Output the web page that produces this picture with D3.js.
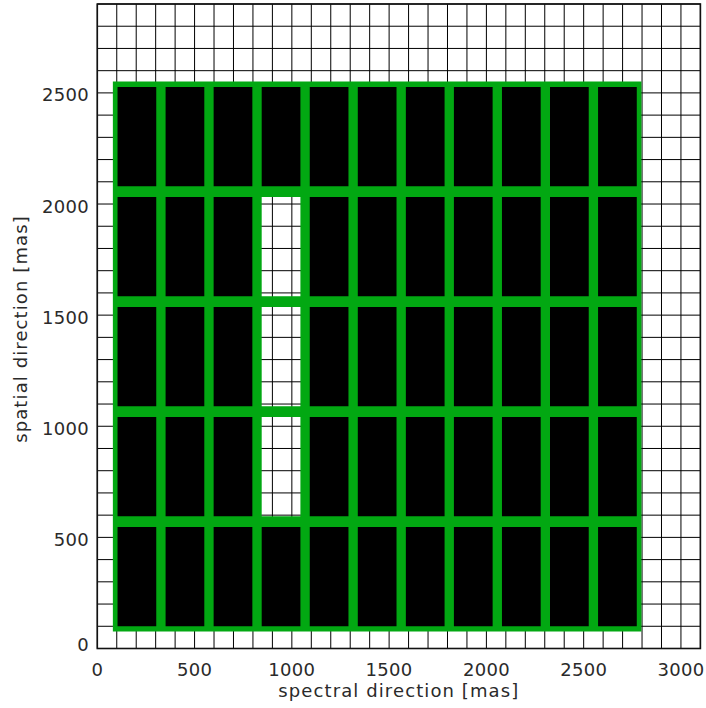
<!DOCTYPE html>
<html>
<head>
<meta charset="utf-8">
<script src="https://cdn.jsdelivr.net/npm/d3@7"></script>
<style>
  body { margin: 0; background: #fff; }
  svg { display: block; }
  text { font-family: "DejaVu Sans", sans-serif; fill: #2a2a2a; }
</style>
</head>
<body>
<svg id="chart" width="706" height="708"></svg>
<script>
// slit-let layout, in mas
const colEdges = [80, 327, 574, 821, 1068, 1315, 1562, 1809, 2056, 2303, 2550, 2797];
const rowEdges = [76, 571, 1066, 1561, 2056, 2551];
// [column, row] cells left open (no black fill)
const openCells = [[3, 1], [3, 2], [3, 3]];
const xTicks = [0, 500, 1000, 1500, 2000, 2500, 3000];
const yTicks = [0, 500, 1000, 1500, 2000, 2500];
const xGrid = [0, 100, 200, 300, 400, 500, 600, 700, 800, 900, 1000, 1100, 1200, 1300, 1400, 1500,
    1600, 1700, 1800, 1900, 2000, 2100, 2200, 2300, 2400, 2500, 2600, 2700, 2800, 2900, 3000, 3100];
const yGrid = [0, 100, 200, 300, 400, 500, 600, 700, 800, 900, 1000, 1100, 1200, 1300, 1400, 1500,
    1600, 1700, 1800, 1900, 2000, 2100, 2200, 2300, 2400, 2500, 2600, 2700, 2800, 2900];
const border = 24;

(function() {
    'use strict';

    let pLeft = 97.3, pRight = 700.4, pTop = 4, pBottom = 648.5;
    let green = '#02a812';

    let svg = d3.select('#chart');

    let x = d3.scaleLinear().domain([0, 3100]).range([pLeft, pRight]);
    let y = d3.scaleLinear().domain([0, 2900]).range([pBottom, pTop]);

    // grid
    let grid = svg.append('g').attr('class', 'grid');
    grid.selectAll('.vg').data(xGrid).enter().append('line')
        .attr('class', 'vg')
        .attr('x1', d => x(d)).attr('x2', d => x(d))
        .attr('y1', pTop).attr('y2', pBottom)
        .style('stroke', '#000').style('stroke-width', 1);
    grid.selectAll('.hg').data(yGrid).enter().append('line')
        .attr('class', 'hg')
        .attr('y1', d => y(d)).attr('y2', d => y(d))
        .attr('x1', pLeft).attr('x2', pRight)
        .style('stroke', '#000').style('stroke-width', 1);

    // cells
    let cells = [];
    for (let c = 0; c < colEdges.length - 1; c++) {
        for (let r = 0; r < rowEdges.length - 1; r++) {
            let open = openCells.some(o => o[0] === c && o[1] === r);
            cells.push({x0: colEdges[c], x1: colEdges[c + 1],
                y0: rowEdges[r], y1: rowEdges[r + 1], open: open});
        }
    }

    // black fill, tucked under the green frame so no seam shows
    svg.append('g').selectAll('rect')
        .data(cells.filter(d => !d.open)).enter().append('rect')
        .attr('x', d => x(d.x0 + border / 2))
        .attr('y', d => y(d.y1 - border / 2))
        .attr('width', d => x(d.x1 - border / 2) - x(d.x0 + border / 2))
        .attr('height', d => y(d.y0 + border / 2) - y(d.y1 - border / 2))
        .style('fill', '#000');

    // all green frames as one path: outer edge one way, inner edge the other
    let outer = function(d) {
        return 'M' + x(d.x0) + ',' + y(d.y0) + 'H' + x(d.x1) +
            'V' + y(d.y1) + 'H' + x(d.x0) + 'Z';
    };
    let inner = function(d) {
        let a = x(d.x0 + border), b = x(d.x1 - border);
        let c = y(d.y0 + border), e = y(d.y1 - border);
        return 'M' + a + ',' + c + 'V' + e + 'H' + b + 'V' + c + 'Z';
    };
    svg.append('path')
        .attr('d', cells.map(d => outer(d) + inner(d)).join(''))
        .attr('fill-rule', 'nonzero')
        .style('fill', green);

    // frame
    svg.append('rect')
        .attr('x', pLeft).attr('y', pTop)
        .attr('width', pRight - pLeft).attr('height', pBottom - pTop)
        .style('fill', 'none').style('stroke', '#111').style('stroke-width', 1.6);

    // tick labels
    svg.append('g').selectAll('text').data(xTicks).enter().append('text')
        .attr('x', d => x(d)).attr('y', 676)
        .attr('text-anchor', 'middle')
        .style('font-size', '18px')
        .style('letter-spacing', '0.3px')
        .text(d => d);

    svg.append('g').selectAll('text').data(yTicks).enter().append('text')
        .attr('x', 89).attr('y', d => y(d) + 8.5 - (d === 0 ? 6 : 0))
        .attr('text-anchor', 'end')
        .style('font-size', '18px')
        .style('letter-spacing', '0.3px')
        .text(d => d);

    // axis titles
    svg.append('text')
        .attr('x', (pLeft + pRight) / 2).attr('y', 697)
        .attr('text-anchor', 'middle')
        .style('font-size', '18px')
        .style('letter-spacing', '1.1px')
        .text('spectral direction [mas]');

    svg.append('text')
        .attr('transform', 'translate(27,' + 329 + ') rotate(-90)')
        .attr('text-anchor', 'middle')
        .style('font-size', '18px')
        .style('letter-spacing', '1.1px')
        .text('spatial direction [mas]');
})();
</script>
</body>
</html>
